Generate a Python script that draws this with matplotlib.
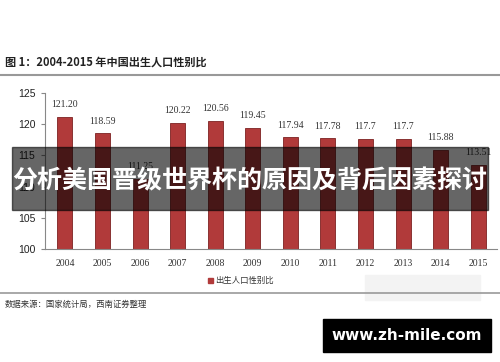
import matplotlib.pyplot as plt
from matplotlib.patches import Rectangle

years = ['2004', '2005', '2006', '2007', '2008', '2009',
         '2010', '2011', '2012', '2013', '2014', '2015']
ratio = [121.20, 118.59, 111.25, 120.22, 120.56, 119.45,
         117.94, 117.78, 117.7, 117.7, 115.88, 113.51]
labels = ['121.20', '118.59', '111.25', '120.22', '120.56', '119.45',
          '117.94', '117.78', '117.7', '117.7', '115.88', '113.51']
yticks = [100, 105, 110, 115, 120, 125]

cjk = ['Noto Sans CJK SC', 'DejaVu Sans']

fig = plt.figure(figsize=(5, 3.62), dpi=100)
W, H = 500, 362

def fx(px):
    return px / W

def fy(py):
    return 1 - py / H

# title and rules
fig.text(fx(5), fy(62), '图 1：2004-2015 年中国出生人口性别比', family=cjk,
         fontsize=8, fontweight='bold', color='#222222', va='center')
fig.add_artist(plt.Line2D([0, 1], [fy(75), fy(75)], color='#999999', lw=1.5))
fig.add_artist(plt.Line2D([0, 1], [fy(293), fy(293)], color='#999999', lw=1.2))
fig.text(fx(5), fy(304), '数据来源：国家统计局，西南证券整理', family=cjk,
         fontsize=6, style='italic', color='#333333', va='center')

ax = fig.add_axes([fx(45), fy(249), fx(497) - fx(45), fy(93) - fy(249)])
x = range(len(years))
ax.bar(x, [r - 100 for r in ratio], bottom=100, width=0.4,
       color='#b13a3a', edgecolor='#7d2222', linewidth=0.6, zorder=2)
for i, (r, lab) in enumerate(zip(ratio, labels)):
    ax.text(i, r + 1.2, lab, ha='center', va='bottom', family='Liberation Serif',
            fontsize=7, color='#333333')
ax.set_ylim(100, 125)
ax.set_xlim(-0.53, 11.5)
ax.set_yticks(yticks)
ax.set_yticklabels([str(t) for t in yticks], family='Liberation Sans', fontsize=7.5,
                   color='#222222')
ax.set_xticks(list(x))
ax.set_xticklabels(years, family='Liberation Serif', fontsize=7, color='#333333')
ax.tick_params(axis='x', length=0, pad=7)
ax.tick_params(axis='y', length=3, color='#888888', pad=4)
for s in ['top', 'right']:
    ax.spines[s].set_visible(False)
ax.spines['left'].set_color('#888888')
ax.spines['bottom'].set_color('#888888')

# legend
fig.add_artist(Rectangle((fx(208), fy(283)), fx(5), 5 / H, color='#b13a3a'))
fig.text(fx(215), fy(280), '出生人口性别比', family=cjk, fontsize=6,
         color='#333333', va='center')

# faded watermark box
fig.add_artist(Rectangle((fx(365), fy(300)), fx(115), 25 / H, color='#f3f3f3'))

# overlay banner
fig.add_artist(Rectangle((fx(12), fy(210)), fx(476), 63 / H, color='black',
                         alpha=0.6, zorder=10))
fig.text(0.5, fy(181), '分析美国晋级世界杯的原因及背后因素探讨', family=cjk,
         fontsize=18, fontweight='bold', color='white', ha='center', va='center',
         zorder=11)

# site box
fig.add_artist(Rectangle((fx(323), fy(352)), fx(168), 33 / H, color='black',
                         zorder=10))
fig.text(fx(407), fy(335), 'www.zh-mile.com', family='DejaVu Sans', fontsize=11,
         fontweight='bold', color='white', ha='center', va='center', zorder=11)

fig.savefig('out.png', dpi=100)
